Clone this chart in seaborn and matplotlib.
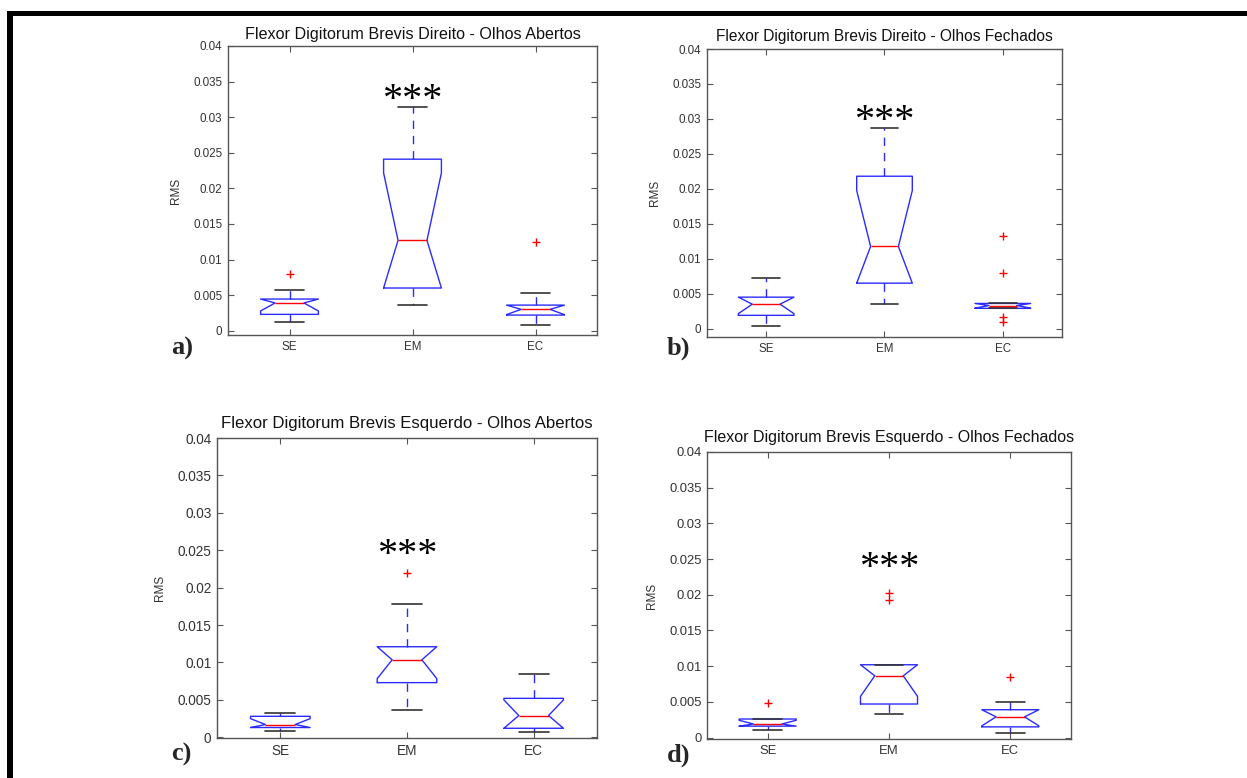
import numpy as np
import pandas as pd
import matplotlib
matplotlib.use("Agg")
import matplotlib.pyplot as plt
from matplotlib.patches import Rectangle
import seaborn as sns

# ---------------- data ----------------
groups = ["SE", "EM", "EC"]

titles = [
    "Flexor Digitorum Brevis Direito - Olhos Abertos",
    "Flexor Digitorum Brevis Direito - Olhos Fechados",
    "Flexor Digitorum Brevis Esquerdo - Olhos Abertos",
    "Flexor Digitorum Brevis Esquerdo - Olhos Fechados",
]
panel_letters = ["a)", "b)", "c)", "d)"]

y_ticks = [0, 0.005, 0.01, 0.015, 0.02, 0.025, 0.03, 0.035, 0.04]
y_tick_labels = ["0", "0.005", "0.01", "0.015", "0.02", "0.025", "0.03", "0.035", "0.04"]

# RMS per subject (9 per group), estimated from the box plots
a_SE = [0.0012, 0.0017, 0.0023, 0.0031, 0.0039, 0.0042, 0.00445, 0.0057, 0.0079]
a_EM = [0.0036, 0.0045, 0.0060, 0.0095, 0.0127, 0.0180, 0.0241, 0.0280, 0.0315]
a_EC = [0.0008, 0.0015, 0.0022, 0.0027, 0.0030, 0.0033, 0.0036, 0.0053, 0.0124]

b_SE = [0.0004, 0.0012, 0.0019, 0.0028, 0.0035, 0.0040, 0.0045, 0.0060, 0.0072]
b_EM = [0.0035, 0.0050, 0.0065, 0.0090, 0.01175, 0.0160, 0.0218, 0.0250, 0.0287]
b_EC = [0.0009, 0.0016, 0.0029, 0.0031, 0.0033, 0.0035, 0.0036, 0.0079, 0.0133]

c_SE = [0.0008, 0.0010, 0.0013, 0.0015, 0.0017, 0.0024, 0.0028, 0.0030, 0.0032]
c_EM = [0.0036, 0.0055, 0.0073, 0.0090, 0.01035, 0.0112, 0.0121, 0.0178, 0.0220]
c_EC = [0.0007, 0.0010, 0.0012, 0.0020, 0.0029, 0.0040, 0.0052, 0.0070, 0.0084]

d_SE = [0.0010, 0.0013, 0.0016, 0.0018, 0.0019, 0.0022, 0.0026, 0.0026, 0.0049]
d_EM = [0.0033, 0.0040, 0.0047, 0.0070, 0.00865, 0.0095, 0.0102, 0.0192, 0.0202]
d_EC = [0.0007, 0.0012, 0.0015, 0.0022, 0.0029, 0.0035, 0.0039, 0.0050, 0.0085]

signif_label = "***"
signif_y = [0.0350, 0.0323, 0.0268, 0.0263]

panels_data = [
    (a_SE, a_EM, a_EC),
    (b_SE, b_EM, b_EC),
    (c_SE, c_EM, c_EC),
    (d_SE, d_EM, d_EC),
]

# ---------------- style / layout ----------------
sns.set_style("white")
plt.rcParams["font.family"] = ["Liberation Sans", "DejaVu Sans"]

W, H = 1247, 778
fig = plt.figure(figsize=(W / 100, H / 100), dpi=100)

# axes boxes in pixels: left, right, top, bottom
boxes_px = [
    (228, 597, 46, 335),
    (707, 1062, 49, 337),
    (217, 597, 438, 738),
    (707, 1071, 452, 739),
]
y_low = [-0.0006, -0.0012, -0.0001, -0.0002]
title_size = [11.6, 11.2, 12.1, 11.5]
title_pad = [5.0, 6.0, 7.5, 7.0]
tick_size = [8.4, 8.4, 9.8, 9.4]
letter_pos = [(171, 348), (667, 348), (171, 754), (667, 755)]

box_col = "#2b2bff"
cap_col = "#333333"

for i, (l, r, t, b) in enumerate(boxes_px):
    ax = fig.add_axes([l / W, 1 - b / H, (r - l) / W, (b - t) / H])
    se, em, ec = panels_data[i]
    df = pd.DataFrame({
        "grupo": ["SE"] * len(se) + ["EM"] * len(em) + ["EC"] * len(ec),
        "rms": list(se) + list(em) + list(ec),
    })
    sns.boxplot(
        data=df, x="grupo", y="rms", order=groups, ax=ax,
        fill=False, width=0.47, color=box_col, linewidth=1.0, whis=1.5,
        shownotches=True,
        boxprops={"color": box_col, "linewidth": 1.0},
        medianprops={"color": "red", "linewidth": 1.0},
        whiskerprops={"color": box_col, "linestyle": (0, (6, 5)), "linewidth": 1.0},
        capprops={"color": cap_col, "linestyle": "-", "linewidth": 1.2},
        flierprops={"marker": "+", "markeredgecolor": "red", "markerfacecolor": "red",
                    "markersize": 6, "markeredgewidth": 1.0, "linestyle": "none"},
    )
    # keep notches inside the box (MATLAB-style)
    for line in ax.lines:
        y = np.asarray(line.get_ydata(), dtype=float)
        if len(y) == 11:
            line.set_ydata(np.clip(y, y[0], y[5]))

    ax.set_xlim(-0.5, 2.5)
    ax.set_ylim(y_low[i], 0.04)
    ax.set_yticks(y_ticks)
    ax.set_yticklabels(y_tick_labels)
    ax.set_xlabel("")
    ax.set_ylabel("RMS", fontsize=8.5, color="#333333", labelpad=8)
    ax.set_title(titles[i], fontsize=title_size[i], color="#111111", pad=title_pad[i])
    ax.tick_params(direction="in", length=4, width=0.8, bottom=True, left=True,
                   top=True, right=True, colors="#555555", labelcolor="#333333",
                   labelsize=tick_size[i], pad=4)
    for sp in ax.spines.values():
        sp.set_color("#555555")
        sp.set_linewidth(1.0)
    ax.text(1, signif_y[i], signif_label, ha="center", va="top",
            fontsize=29, family=["Liberation Serif", "DejaVu Serif"], color="black")

    lx, ly = letter_pos[i]
    fig.text(lx / W, 1 - ly / H, panel_letters[i], ha="left", va="center",
             fontsize=19, fontweight="bold", family=["Liberation Serif", "DejaVu Serif"])

# frame bars of the original page
fig.add_artist(Rectangle((7 / W, 1 - 16 / H), 1 - 7 / W, 5 / H, transform=fig.transFigure,
                         facecolor="black", edgecolor="none"))
fig.add_artist(Rectangle((7 / W, 0), 6 / W, 1 - 11 / H, transform=fig.transFigure,
                         facecolor="black", edgecolor="none"))

fig.savefig("out.png", dpi=100, facecolor="white")
